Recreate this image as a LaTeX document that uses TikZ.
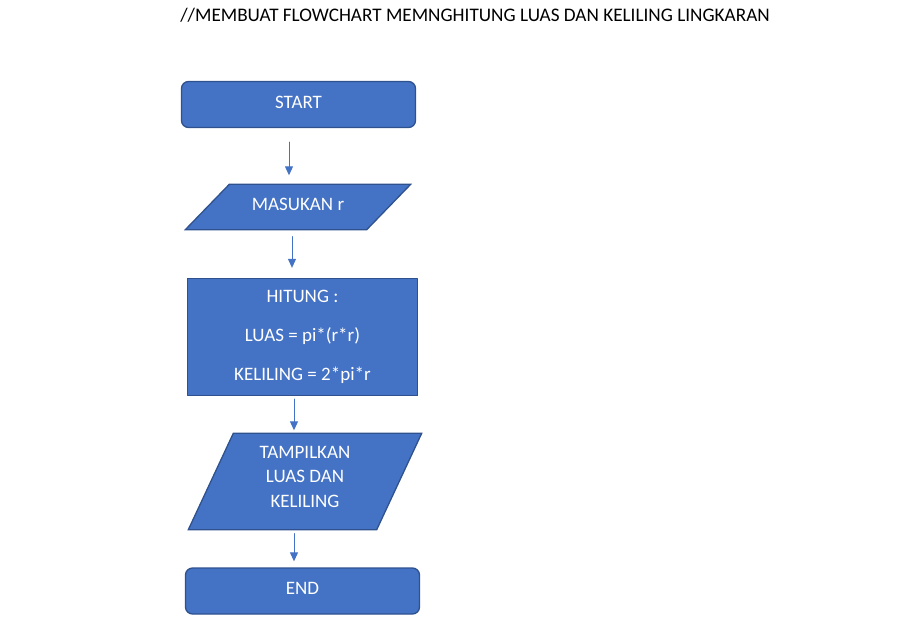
\documentclass[tikz,border=0pt]{standalone}
\usepackage{fontspec}
\setmainfont{Carlito}
\usetikzlibrary{arrows.meta,backgrounds}
\definecolor{isi}{HTML}{4472C4}
\definecolor{garis}{HTML}{2F528F}
\begin{document}
\begin{tikzpicture}[x=1pt,y=-1pt,line join=round,line cap=round,font=\fontsize{19}{22}\selectfont,>={Triangle[width=8pt,length=9pt]},
	kotak/.style={draw=garis,fill=isi,line width=1.3pt,text=white,inner sep=0pt},
	terminal/.style={kotak,rounded corners=7pt,minimum width=234pt,minimum height=46pt,text depth=5pt},
	proses/.style={kotak,minimum width=230pt,minimum height=117pt,align=center,font=\fontsize{19}{39}\selectfont},
	io/.style={text=white,inner sep=0pt,align=center},
	panah/.style={->,color=isi,line width=1pt}]
	\useasboundingbox (0,0) rectangle (904,629);
	\node[font=\fontsize{19.2}{22}\selectfont] (judul) at (475,15) {//MEMBUAT FLOWCHART MEMNGHITUNG LUAS DAN KELILING LINGKARAN};
	\node[terminal] (start) at (298.5,104.5) {START};
	\node[io,minimum width=181pt,minimum height=45pt,text depth=6pt] (masukan) at (298,207) {MASUKAN r};
	\node[proses] (hitung) at (302.5,337) {HITUNG :\\LUAS = pi*(r*r)\\KELILING = 2*pi*r};
	\node[io,minimum width=188pt,minimum height=96pt,
		label={[io,yshift=5,font=\fontsize{19}{24.5}\selectfont]center:TAMPILKAN\\LUAS DAN\\KELILING}] (tampil) at (305,481.5) {};
	\node[terminal] (end) at (302.5,591) {END};
	% jajar genjang input/output
	\begin{scope}[on background layer]
		\draw[kotak] ([xshift=22]masukan.north west) -- ([xshift=22]masukan.north east) -- ([xshift=-22]masukan.south east) -- ([xshift=-22]masukan.south west) -- cycle;
		\draw[kotak] ([xshift=22.5]tampil.north west) -- ([xshift=22.5]tampil.north east) -- ([xshift=-22.5]tampil.south east) -- ([xshift=-22.5]tampil.south west) -- cycle;
	\end{scope}
	% panah antar simbol
	\draw[panah,shorten <=14pt,shorten >=9pt] ([xshift=-9.5]start.south) -- ([xshift=-9.5]start.south |- masukan.north);
	\draw[panah,shorten <=7pt,shorten >=10pt] ([xshift=-6]masukan.south) -- ([xshift=-6]masukan.south |- hitung.north);
	\draw[panah,shorten <=3pt,shorten >=3pt] ([xshift=-8.5]hitung.south) -- ([xshift=-8.5]hitung.south |- tampil.north);
	\draw[panah,shorten <=4pt,shorten >=6pt] ([xshift=-11]tampil.south) -- ([xshift=-11]tampil.south |- end.north);
\end{tikzpicture}
\end{document}
